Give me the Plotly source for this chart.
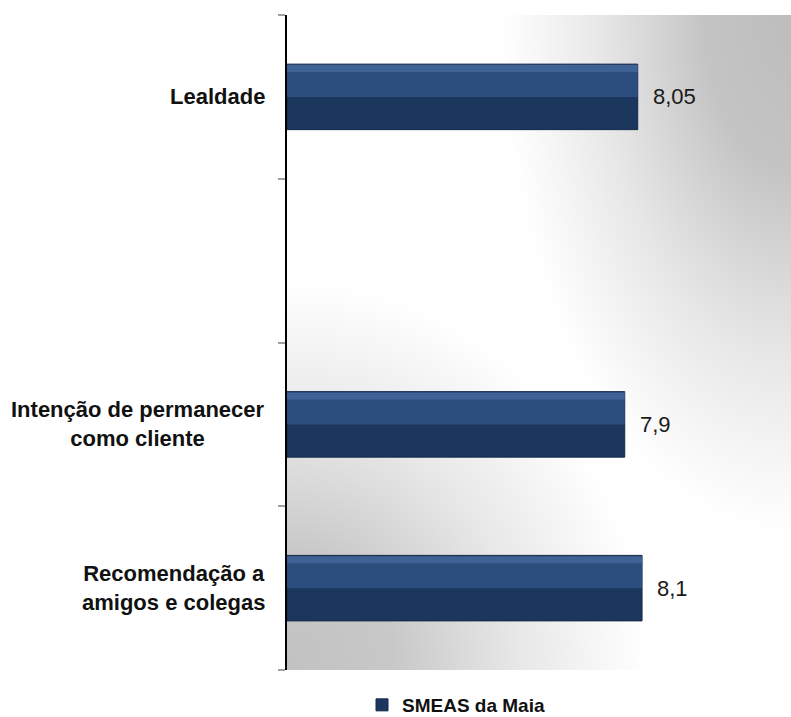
import base64
import plotly.graph_objects as go

categories = ["Recomendação a<br>amigos e colegas", "Intenção de permanecer<br>como cliente", " ", "Lealdade"]
values = [8.1, 7.9, None, 8.05]
series_name = "SMEAS da Maia"
x_range = [4, 9.82]

FONT = "Liberation Sans, Arial, sans-serif"

svg = ('<svg xmlns="http://www.w3.org/2000/svg" width="504" height="655" viewBox="0 0 504 655" '
       'preserveAspectRatio="none"><defs>'
       '<radialGradient id="a" gradientUnits="userSpaceOnUse" cx="0" cy="0" r="1" '
       'gradientTransform="translate(504 0) scale(290 520)">'
       '<stop offset="0" stop-color="#bdbdbd" stop-opacity="1"/>'
       '<stop offset="0.3" stop-color="#c4c4c4" stop-opacity="1"/>'
       '<stop offset="0.65" stop-color="#c8c8c8" stop-opacity="0.45"/>'
       '<stop offset="1" stop-color="#cccccc" stop-opacity="0"/></radialGradient>'
       '<radialGradient id="b" gradientUnits="userSpaceOnUse" cx="0" cy="0" r="1" '
       'gradientTransform="translate(0 655) scale(360 390)">'
       '<stop offset="0" stop-color="#c2c2c2" stop-opacity="1"/>'
       '<stop offset="0.3" stop-color="#c8c8c8" stop-opacity="1"/>'
       '<stop offset="0.65" stop-color="#cccccc" stop-opacity="0.45"/>'
       '<stop offset="1" stop-color="#cccccc" stop-opacity="0"/></radialGradient>'
       '</defs><rect width="504" height="655" fill="#ffffff"/>'
       '<rect width="504" height="655" fill="url(#a)"/>'
       '<rect width="504" height="655" fill="url(#b)"/></svg>')
bg_src = "data:image/svg+xml;base64," + base64.b64encode(svg.encode()).decode()

lengths = [None if v is None else v - x_range[0] for v in values]

fig = go.Figure()
# main bar body (darker lower part)
fig.add_trace(go.Bar(
    y=categories, x=lengths, orientation="h", name=series_name,
    base=x_range[0], width=0.4,
    marker=dict(color="#1c375e", line=dict(color="#13284a", width=1)),
    showlegend=True, hoverinfo="skip",
))
# upper face, slightly lighter
fig.add_trace(go.Bar(
    y=categories, x=lengths, orientation="h",
    base=x_range[0], width=0.15, offset=0.0,
    marker=dict(color="#2b4e7f", line=dict(width=0)),
    showlegend=False, hoverinfo="skip",
))
# top bevel
fig.add_trace(go.Bar(
    y=categories, x=lengths, orientation="h",
    base=x_range[0], width=0.045, offset=0.15,
    marker=dict(color="#3e6296", line=dict(width=0)),
    showlegend=False, hoverinfo="skip",
))

annotations = []
for c, v in zip(categories, values):
    if v is None:
        continue
    annotations.append(dict(
        x=v, y=c, xref="x", yref="y", text=str(v).replace(".", ","),
        showarrow=False, xanchor="left", yanchor="middle", xshift=13,
        font=dict(family=FONT, size=22, color="#1a1a1a"),
    ))
    annotations.append(dict(
        x=0, y=c, xref="paper", yref="y", text="<b>" + c + "</b>",
        showarrow=False, xanchor="right", yanchor="middle", xshift=-20, align="center",
        font=dict(family=FONT, size=22, color="#111111"),
    ))

fig.update_layout(
    width=791, height=717,
    margin=dict(l=287, r=0, t=15, b=47),
    paper_bgcolor="white", plot_bgcolor="rgba(0,0,0,0)",
    barmode="overlay",
    showlegend=True,
    legend=dict(orientation="h", x=362 / 791, xref="container", xanchor="left",
                y=(717 - 705) / 717, yref="container", yanchor="middle",
                font=dict(family=FONT, size=19, color="#111111", weight="bold"),
                itemwidth=30),
    images=[dict(source=bg_src, xref="paper", yref="paper", x=0, y=1, sizex=1, sizey=1,
                 xanchor="left", yanchor="top", sizing="stretch", layer="below")],
    annotations=annotations,
    xaxis=dict(range=x_range, visible=False, showgrid=False, zeroline=False),
    yaxis=dict(type="category", categoryorder="array", categoryarray=categories,
               range=[-0.5, 3.5], showticklabels=False, ticks="outside", tickson="boundaries",
               ticklen=7, tickcolor="#a0a0a0", tickwidth=2,
               showline=True, linecolor="black", linewidth=2, showgrid=False, zeroline=False),
)

fig.write_html("out.html", config={"displayModeBar": False},
               post_script="document.body.style.margin='0';")
